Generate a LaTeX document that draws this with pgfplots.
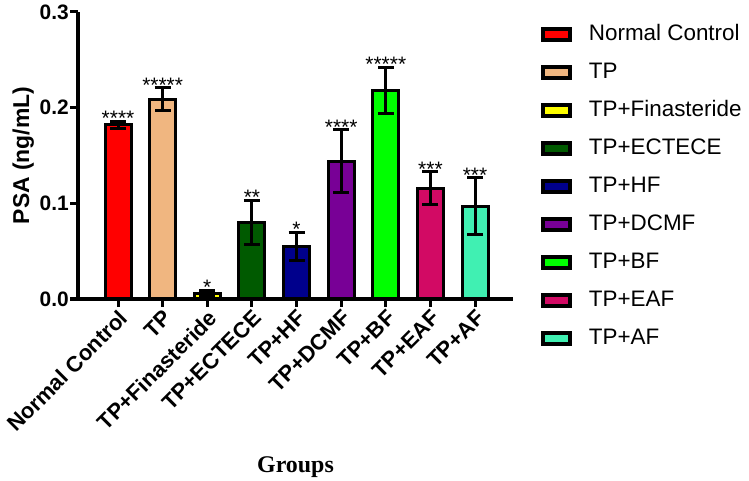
\documentclass[border=0pt]{standalone}
\usepackage{pgfplots}
\pgfplotsset{compat=1.18}
\usepackage{fontspec}
\setmainfont{Liberation Sans}
\newfontfamily\timesfont{Liberation Serif}
\definecolor{cNC}{RGB}{255,0,0}
\definecolor{cTP}{RGB}{240,182,128}
\definecolor{cFin}{RGB}{255,255,0}
\definecolor{cECT}{RGB}{0,90,0}
\definecolor{cHF}{RGB}{0,0,140}
\definecolor{cDCMF}{RGB}{120,0,150}
\definecolor{cBF}{RGB}{0,255,0}
\definecolor{cEAF}{RGB}{210,10,100}
\definecolor{cAF}{RGB}{64,240,178}
\pgfplotsset{
  mybar/.style={ybar, bar width=26bp, bar shift=0pt, draw=black, line width=3bp, fill=#1,
    error bars/.cd, y dir=both, y explicit,
    error bar style={line width=3bp, black},
    error mark options={rotate=90, line width=3bp, black, mark size=8bp}},
}
\begin{document}
\begin{tikzpicture}
\useasboundingbox (0,0) rectangle (749bp,481bp);
\begin{axis}[
  at={(78bp,182bp)}, anchor=south west,
  scale only axis, width=435bp, height=287bp,
  xmin=-0.897, xmax=8.85, ymin=0, ymax=0.3,
  axis x line=bottom, axis y line=left, axis line style={-, line width=3bp, black},
  tick align=outside, major tick length=8bp,
  tick style={line width=3bp, black},
  xtick={0,...,8},
  xticklabels={Normal Control, TP, TP+Finasteride, TP+ECTECE, TP+HF, TP+DCMF, TP+BF, TP+EAF, TP+AF},
  xticklabel style={rotate=45, anchor=north east, font=\fontsize{22}{22}\selectfont\bfseries, inner sep=1bp},
  ytick={0,0.1,0.2,0.3},
  yticklabel style={anchor=east, font=\fontsize{21}{21}\selectfont\bfseries, inner sep=1bp},
  /pgf/number format/assume math mode=true,
  /pgf/number format/fixed, /pgf/number format/fixed zerofill, /pgf/number format/precision=1,
  ylabel={PSA (ng/mL)},
  ylabel style={at={(axis description cs:-0.126,0.5)}, anchor=center, font=\fontsize{23}{23}\selectfont\bfseries},
  xlabel={Groups},
  xlabel style={at={(axis description cs:0.5,-0.603)}, anchor=base, font=\fontsize{24}{24}\selectfont\timesfont\bfseries},
  clip=false,
  legend cell align=left,
  legend image code/.code={\draw[#1, line width=3.5bp] (0bp,-5.5bp) rectangle (27bp,5.5bp);},
  legend style={at={(axis description cs:1.058,0.962)}, anchor=north west, draw=none, fill=none,
    font=\fontsize{22.5}{22.5}\selectfont, row sep=19bp,
    nodes={inner sep=0bp, text height=15bp, text depth=4bp},
    /tikz/every odd column/.append style={column sep=17bp}},
]
\addplot[mybar=cNC] coordinates {(0,0.182) +- (0,0.004)};
\addlegendentry{Normal Control}
\addplot[mybar=cTP] coordinates {(1,0.209) +- (0,0.012)};
\addlegendentry{TP}
\addplot[mybar=cFin] coordinates {(2,0.006) +- (0,0.003)};
\addlegendentry{TP+Finasteride}
\addplot[mybar=cECT] coordinates {(3,0.080) +- (0,0.023)};
\addlegendentry{TP+ECTECE}
\addplot[mybar=cHF] coordinates {(4,0.055) +- (0,0.015)};
\addlegendentry{TP+HF}
\addplot[mybar=cDCMF] coordinates {(5,0.144) +- (0,0.033)};
\addlegendentry{TP+DCMF}
\addplot[mybar=cBF] coordinates {(6,0.218) +- (0,0.024)};
\addlegendentry{TP+BF}
\addplot[mybar=cEAF] coordinates {(7,0.116) +- (0,0.017)};
\addlegendentry{TP+EAF}
\addplot[mybar=cAF] coordinates {(8,0.097) +- (0,0.030)};
\addlegendentry{TP+AF}
\begin{scope}[every node/.style={anchor=base, yshift=-4.5bp, font=\fontsize{21}{21}\selectfont, inner sep=0pt}]
\node at (axis cs:0,0.186) {****};
\node at (axis cs:1,0.221) {*****};
\node at (axis cs:2,0.009) {*};
\node at (axis cs:3,0.103) {**};
\node at (axis cs:4,0.070) {*};
\node at (axis cs:5,0.177) {****};
\node at (axis cs:6,0.242) {*****};
\node at (axis cs:7,0.133) {***};
\node at (axis cs:8,0.127) {***};
\end{scope}
\end{axis}
\end{tikzpicture}
\end{document}
